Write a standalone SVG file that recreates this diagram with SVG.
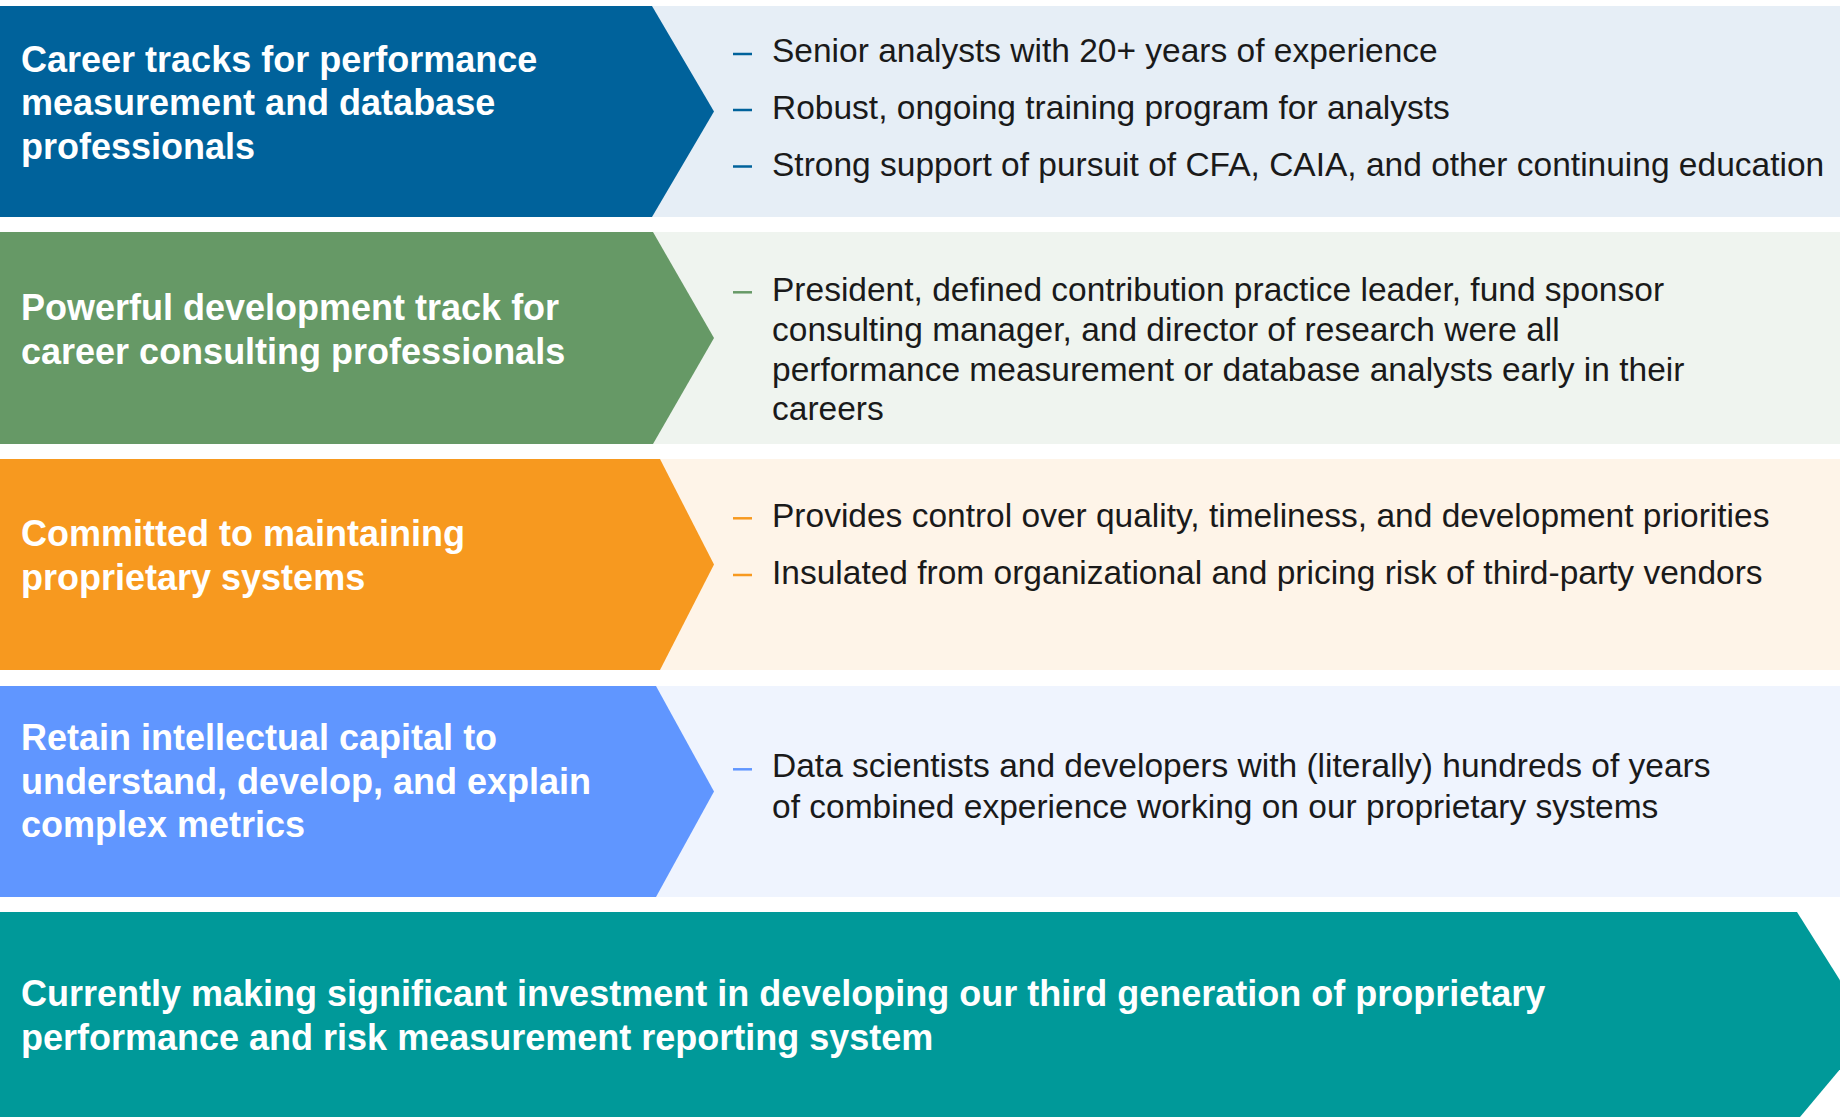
<svg xmlns="http://www.w3.org/2000/svg" width="1840" height="1117" viewBox="0 0 1840 1117">
<style>
.lbl{font-family:"Liberation Sans",Arial,sans-serif;font-weight:bold;font-size:36px;fill:#ffffff}
.txt{font-family:"Liberation Sans",Arial,sans-serif;font-size:33.5px;fill:#1a1a1a}
.d1{stroke:#00629B}.d2{stroke:#669966}.d3{stroke:#F7991F}.d4{stroke:#6096FF}
.dash{stroke-width:2.5}
</style>
<rect width="1840" height="1117" fill="#ffffff"/>
<g id="row1">
<rect x="600" y="6" width="1240" height="211" fill="#E6EEF6"/>
<polygon points="0,6 652,6 714,111.5 652,217 0,217" fill="#00629B"/>
<text class="lbl" x="21" y="71.5">Career tracks for performance</text>
<text class="lbl" x="21" y="115">measurement and database</text>
<text class="lbl" x="21" y="158.5">professionals</text>
<line class="dash d1" x1="733" y1="54" x2="752" y2="54"/>
<line class="dash d1" x1="733" y1="110" x2="752" y2="110"/>
<line class="dash d1" x1="733" y1="166.5" x2="752" y2="166.5"/>
<text class="txt" x="772" y="62.3">Senior analysts with 20+ years of experience</text>
<text class="txt" x="772" y="118.5">Robust, ongoing training program for analysts</text>
<text class="txt" x="772" y="175.5">Strong support of pursuit of CFA, CAIA, and other continuing education</text>
</g>
<g id="row2">
<rect x="600" y="232" width="1240" height="212" fill="#EFF4EF"/>
<polygon points="0,232 653,232 714,338 653,444 0,444" fill="#669966"/>
<text class="lbl" x="21" y="320">Powerful development track for</text>
<text class="lbl" x="21" y="363.5">career consulting professionals</text>
<line class="dash d2" x1="733" y1="292.3" x2="752" y2="292.3"/>
<text class="txt" x="772" y="301">President, defined contribution practice leader, fund sponsor</text>
<text class="txt" x="772" y="340.5">consulting manager, and director of research were all</text>
<text class="txt" x="772" y="380.5">performance measurement or database analysts early in their</text>
<text class="txt" x="772" y="420">careers</text>
</g>
<g id="row3">
<rect x="600" y="459" width="1240" height="211" fill="#FEF4E8"/>
<polygon points="0,459 660,459 714,564.5 660,670 0,670" fill="#F7991F"/>
<text class="lbl" x="21" y="546">Committed to maintaining</text>
<text class="lbl" x="21" y="589.5">proprietary systems</text>
<line class="dash d3" x1="733" y1="518.3" x2="752" y2="518.3"/>
<line class="dash d3" x1="733" y1="575" x2="752" y2="575"/>
<text class="txt" x="772" y="527.3">Provides control over quality, timeliness, and development priorities</text>
<text class="txt" x="772" y="584">Insulated from organizational and pricing risk of third-party vendors</text>
</g>
<g id="row4">
<rect x="600" y="686" width="1240" height="211" fill="#EFF4FE"/>
<polygon points="0,686 656,686 714,791.5 656,897 0,897" fill="#6096FF"/>
<text class="lbl" x="21" y="750">Retain intellectual capital to</text>
<text class="lbl" x="21" y="793.5">understand, develop, and explain</text>
<text class="lbl" x="21" y="837">complex metrics</text>
<line class="dash d4" x1="733" y1="769.3" x2="752" y2="769.3"/>
<text class="txt" x="772" y="777.3">Data scientists and developers with (literally) hundreds of years</text>
<text class="txt" x="772" y="817.5">of combined experience working on our proprietary systems</text>
</g>
<g id="row5">
<polygon points="0,912 1797,912 1872,1031 1800,1117 0,1117" fill="#009999"/>
<text class="lbl" x="21" y="1005.5">Currently making significant investment in developing our third generation of proprietary</text>
<text class="lbl" x="21" y="1049.5">performance and risk measurement reporting system</text>
</g>
</svg>
